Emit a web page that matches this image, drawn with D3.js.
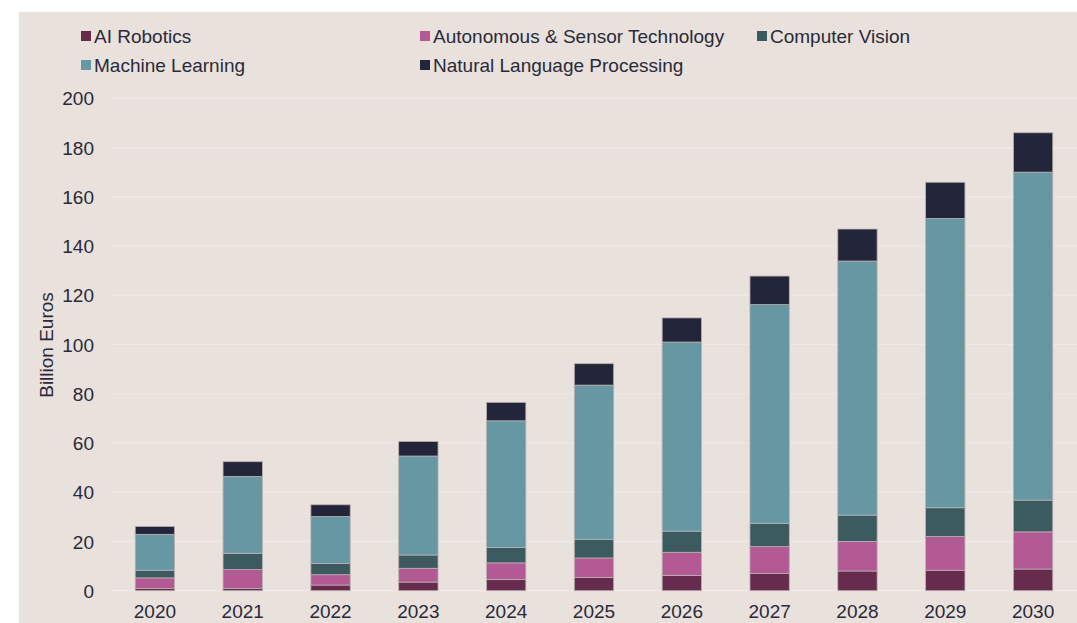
<!DOCTYPE html>
<html>
<head>
<meta charset="utf-8">
<script src="https://cdn.jsdelivr.net/npm/d3@7"></script>
<style>
  html, body { margin: 0; padding: 0; background: #ffffff; }
  svg { display: block; }
</style>
</head>
<body>
<svg id="chart" width="1077" height="623"></svg>
<script>
const years = ["2020","2021","2022","2023","2024","2025","2026","2027","2028","2029","2030"];
const seriesNames = ["AI Robotics","Autonomous & Sensor Technology","Computer Vision","Machine Learning","Natural Language Processing"];
const aiRobotics   = [0.9, 0.9, 2.3, 3.5, 4.5, 5.4, 6.2, 7.0, 8.0, 8.3, 8.8];
const autonomous   = [4.3, 7.7, 4.2, 5.6, 6.8, 7.9, 9.4, 10.9, 12.0, 13.7, 15.1];
const computerVis  = [3.1, 6.6, 4.6, 5.4, 6.3, 7.6, 8.6, 9.5, 10.7, 11.7, 12.9];
const machineLearn = [14.6, 31.2, 19.0, 40.2, 51.4, 62.6, 76.8, 88.8, 103.2, 117.5, 133.2];
const nlp          = [3.2, 6.0, 4.8, 5.9, 7.5, 8.7, 9.8, 11.6, 13.0, 14.7, 16.0];
const yTicks = [0, 20, 40, 60, 80, 100, 120, 140, 160, 180, 200];
const colors = ["#672b4e", "#b35994", "#3b5b61", "#6598a2", "#23263a"];

const seriesValues = [aiRobotics, autonomous, computerVis, machineLearn, nlp];
const table = years.map((y, i) => {
  const row = { year: y };
  seriesNames.forEach((s, k) => row[s] = seriesValues[k][i]);
  return row;
});

const svg = d3.select("#chart");
const font = "'Liberation Sans', Arial, sans-serif";
const textColor = "#2a2a3a";
const fs = 19;

// background panel
svg.append("rect").attr("x", 19).attr("y", 12).attr("width", 1077 - 19).attr("height", 623 - 12).attr("fill", "#e8e1dc");

const x = d3.scaleBand().domain(years).range([111, 1077]).paddingInner(0.552).paddingOuter(0.276);
const y = d3.scaleLinear().domain([0, 200]).range([590.7, 98.3]);

// gridlines
svg.append("g").selectAll("line").data(yTicks).join("line")
  .attr("x1", 111).attr("x2", 1077)
  .attr("y1", d => y(d)).attr("y2", d => y(d))
  .attr("stroke", "#efeae7").attr("stroke-width", 1.2);

// y axis labels
const yAxis = d3.axisLeft(y).tickValues(yTicks).tickSize(0).tickPadding(0);
const gy = svg.append("g").attr("transform", "translate(94,0)").call(yAxis);
gy.select(".domain").remove();
gy.selectAll("text").attr("font-family", font).attr("font-size", fs).attr("fill", textColor).attr("dy", "0.35em");

// x axis labels
const xAxis = d3.axisBottom(x).tickSize(0).tickPadding(0);
const gx = svg.append("g").attr("transform", "translate(0,604)").call(xAxis);
gx.select(".domain").remove();
gx.selectAll("text").attr("font-family", font).attr("font-size", fs).attr("fill", textColor).attr("dy", "0.75em");

// axis title
svg.append("text")
  .attr("transform", "translate(53,345) rotate(-90)")
  .attr("text-anchor", "middle")
  .attr("font-family", font).attr("font-size", fs).attr("fill", textColor)
  .text("Billion Euros");

// stacked bars
const stack = d3.stack().keys(seriesNames)(table);
svg.append("g").selectAll("g").data(stack).join("g")
  .attr("fill", (d, i) => colors[i])
  .selectAll("rect").data(d => d).join("rect")
  .attr("x", d => x(d.data.year))
  .attr("width", x.bandwidth())
  .attr("y", d => y(d[1]))
  .attr("height", d => y(d[0]) - y(d[1]))
  .attr("stroke", "#b9b1b1").attr("stroke-width", 0.8);

// legend
const legendPos = [
  { x: 81, y: 36 }, { x: 420, y: 36 }, { x: 757, y: 36 },
  { x: 81, y: 65 }, { x: 420, y: 65 }
];
const lg = svg.append("g").selectAll("g").data(seriesNames).join("g")
  .attr("transform", (d, i) => `translate(${legendPos[i].x},${legendPos[i].y})`);
lg.append("rect").attr("x", 0).attr("y", -5).attr("width", 10).attr("height", 10)
  .attr("fill", (d, i) => colors[i]);
lg.append("text").attr("x", 13).attr("y", 0).attr("dy", "0.35em")
  .attr("font-family", font).attr("font-size", fs).attr("fill", textColor)
  .text(d => d);
</script>
</body>
</html>
